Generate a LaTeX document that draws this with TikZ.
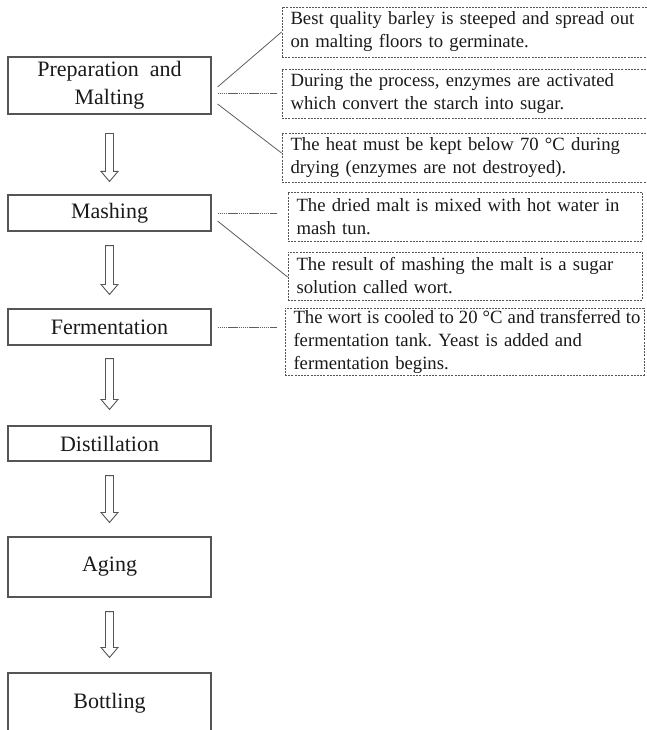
\documentclass[tikz,border=0pt]{standalone}
\usepackage{fontspec}
\setmainfont{Liberation Serif}
\usetikzlibrary{calc}
\definecolor{boxline}{HTML}{555555}
\definecolor{ink}{HTML}{1A1A1A}
\definecolor{linkline}{HTML}{5E5E5E}
\frenchspacing

% hollow block arrow between two stacked stages:
% #1 upper node, #2 lower node, #3 gap below #1, #4 gap above #2
\newcommand{\flowarrow}[4]{%
  \draw[barrow] let \p1=(#1.south), \p2=(#2.north) in
    (\x1-4pt,\y1-#3) -- (\x1-4pt,\y2+#4+10pt) -- (\x1-8.5pt,\y2+#4+10pt)
    -- (\x1,\y2+#4) -- (\x1+8.5pt,\y2+#4+10pt) -- (\x1+4pt,\y2+#4+10pt)
    -- (\x1+4pt,\y1-#3) -- cycle;}

\begin{document}
\begin{tikzpicture}[x=1pt,y=-1pt,
  stage/.style={draw=boxline, line width=1.1pt, minimum width=203pt,
    inner sep=0pt, text=ink, font=\fontsize{22}{28}\selectfont, align=center},
  note/.style={draw=boxline, line width=0.9pt, dash pattern=on 2pt off 1.2pt,
    inner xsep=8.5pt, inner ysep=0pt, text=ink,
    font=\fontsize{18.7}{23}\selectfont, align=left},
  link/.style={draw=linkline, line width=0.8pt},
  dlink/.style={draw=linkline, line width=1pt, dash pattern=on 1.5pt off 0.6pt},
  barrow/.style={draw=boxline, line width=0.9pt, fill=white, line join=miter}
]
\useasboundingbox (0,0) rectangle (647,730);
\clip (0,0) rectangle (647,730);

% process stages
\node[stage, minimum height=57pt] (prep)  at (109.5,85.5) {\rule{0pt}{6pt}Preparation~ and\\Malting};
\node[stage, minimum height=36pt] (mash)  at (109.5,213)  {Mashing};
\node[stage, minimum height=36pt] (ferm)  at (109.5,327)  {Fermentation};
\node[stage, minimum height=35pt] (dist)  at (109.5,443.5) {Distillation};
\node[stage, minimum height=60pt] (aging) at (109.5,567)  {Aging};
\node[stage, minimum height=60pt] (bottl) at (109.5,703)  {Bottling};

% explanatory notes
\node[note, minimum height=50pt, text width=350pt] (nA) at (465.5,32)
  {Best quality barley is steeped and spread out\\on malting floors to germinate.};
\node[note, minimum height=49pt, text width=350pt] (nB) at (465.5,93.5)
  {During the process, enzymes are activated\\which convert the starch into sugar.};
\node[note, minimum height=49pt, text width=350pt] (nC) at (465.5,157.5)
  {The heat must be kept below 70 °C during\\drying (enzymes are not destroyed).};
\node[note, minimum height=49pt, text width=337pt] (nD) at (465,216.5)
  {The dried malt is mixed with hot water in\\mash tun.};
\node[note, minimum height=48pt, text width=337pt] (nE) at (465,276)
  {The result of mashing the malt is a sugar\\solution called wort.};
\node[note, minimum height=67pt, text width=342pt] (nF) at (464.5,341.5)
  {\makebox[342pt][l]{\spaceskip=0.27em\relax The wort is cooled to 20 °C and transferred to}\\fermentation tank. Yeast is added and\\fermentation begins.};

% links from stages to notes
\draw[link]  ([shift={(6,1.5)}]prep.east) -- (nA.west);
\draw[dlink] ([xshift=6pt]prep.east |- nB.west) -- ([xshift=-5pt]nB.west);
\draw[link]  ([shift={(6,18.5)}]prep.east) -- ([shift={(0,-4.5)}]nC.west);
\draw[dlink] ([xshift=6pt]mash.east) -- ([xshift=-11pt]mash.east -| nD.west);
\draw[link]  ([shift={(6,8)}]mash.east) -- ([shift={(0,1)}]nE.west);
\draw[dlink] ([xshift=6pt]ferm.east) -- ([xshift=-8pt]ferm.east -| nF.west);

% flow arrows
\flowarrow{prep}{mash}{19pt}{13pt}
\flowarrow{mash}{ferm}{14pt}{14pt}
\flowarrow{ferm}{dist}{13pt}{16pt}
\flowarrow{dist}{aging}{14pt}{14pt}
\flowarrow{aging}{bottl}{14pt}{15pt}
\end{tikzpicture}
\end{document}
